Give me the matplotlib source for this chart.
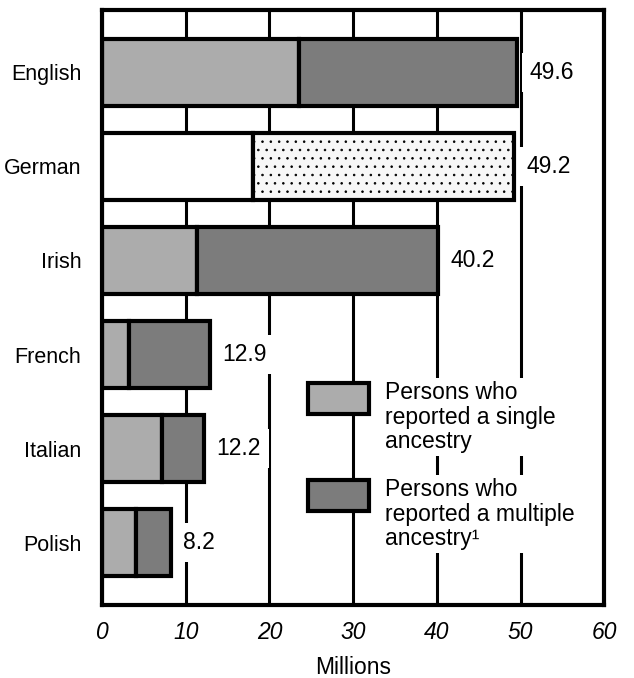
import matplotlib
matplotlib.use('Agg')
import matplotlib.pyplot as plt
from matplotlib.patches import Rectangle
import numpy as np

ancestries = ['English', 'German', 'Irish', 'French', 'Italian', 'Polish']
single = [23.5, 18.0, 11.4, 3.2, 7.2, 4.0]
total = [49.6, 49.2, 40.2, 12.9, 12.2, 8.2]
multiple = [t - s for t, s in zip(total, single)]
xticks = [0, 10, 20, 30, 40, 50, 60]
legend_labels = ['Persons who\nreported a single\nancestry',
                 'Persons who\nreported a multiple\nancestry\u00b9']

plt.rcParams['font.family'] = ['Liberation Sans', 'DejaVu Sans']
plt.rcParams['hatch.linewidth'] = 0.6

SINGLE_COLOR = '#acacac'
MULTI_COLOR = '#7c7c7c'
FS = 16.5

fig = plt.figure(figsize=(6.34, 6.78), dpi=100)
ax = fig.add_axes([0.161, 0.108, 0.792, 0.877])

y = np.arange(len(ancestries))
h = 0.71
single_colors = ['white' if a == 'German' else SINGLE_COLOR for a in ancestries]
multi_colors = ['#f7f7f7' if a == 'German' else MULTI_COLOR for a in ancestries]

ax.barh(y, single, height=h, color=single_colors, edgecolor='black',
        linewidth=3, zorder=2)
bars = ax.barh(y, multiple, left=single, height=h, color=multi_colors,
               edgecolor='black', linewidth=3, zorder=2)
bars[ancestries.index('German')].set_hatch('..')

for yi, t in zip(y, total):
    ax.annotate(f'{t:.1f}', (t, yi), xytext=(9, 0), textcoords='offset points',
                va='center', ha='left', fontsize=FS, zorder=4,
                bbox=dict(boxstyle='square,pad=0.35', fc='white', ec='none'))

# legend drawn by hand so gridlines show between entries
leg_y = [3.30, 4.33]
leg_colors = [SINGLE_COLOR, MULTI_COLOR]
for ly, c, lab in zip(leg_y, leg_colors, legend_labels):
    ax.add_patch(Rectangle((24.6, ly), 7.3, 0.33, facecolor=c,
                           edgecolor='black', linewidth=3, zorder=3))
    ax.text(33.8, ly - 0.02, lab, va='top', ha='left', fontsize=FS,
            linespacing=1.1, zorder=4,
            bbox=dict(boxstyle='square,pad=0.12', fc='white', ec='none'))

ax.set_xlim(0, 60)
ax.set_ylim(5.66, -0.66)
ax.set_xticks(xticks)
ax.set_xticklabels([str(v) for v in xticks], fontstyle='italic', fontsize=FS)
ax.set_yticks(y)
ax.set_yticklabels(ancestries, fontsize=15.5)
ax.tick_params(axis='both', length=0)
ax.tick_params(axis='x', pad=12)
ax.tick_params(axis='y', pad=15)
ax.set_xlabel('Millions', fontsize=FS, labelpad=8)

ax.set_axisbelow(True)
ax.xaxis.grid(True, color='black', linewidth=2.2)
for s in ax.spines.values():
    s.set_linewidth(3)

fig.savefig('out.png', dpi=100)
